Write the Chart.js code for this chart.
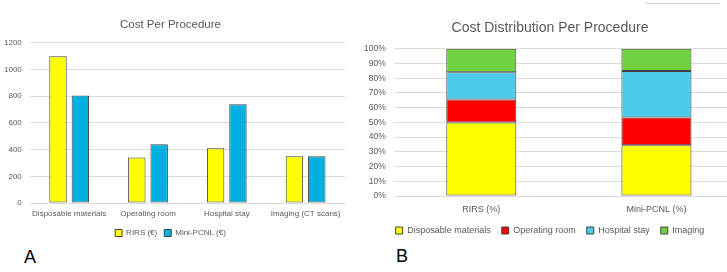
<!DOCTYPE html>
<html>
<head>
<meta charset="utf-8">
<script src="https://cdn.jsdelivr.net/npm/chart.js@4"></script>
<style>
  html, body { margin: 0; padding: 0; background: #fff; overflow: hidden; }
  body { width: 727px; height: 272px; position: relative; font-family: "Liberation Sans", Arial, sans-serif; }
  #boxA { position: absolute; left: 0; top: 0; width: 355px; height: 247px; }
  #boxB { position: absolute; left: 360px; top: 0; width: 394px; height: 245px; }
  .panel { position: absolute; font-size: 18px; color: #000; }
  #frameLine { position: absolute; left: 645px; top: 3px; width: 75px; height: 1px; background: #d4d4d4; }
</style>
</head>
<body>
<div id="boxA"><canvas id="cost_chart"></canvas></div>
<div id="boxB"><canvas id="share_chart"></canvas></div>
<div id="frameLine"></div>
<div class="panel" style="left:24px; top:247px;">A</div>
<div class="panel" style="left:396px; top:246px;">B</div>
<script>
const costCategories = ['Disposable materials', 'Operating room', 'Hospital stay', 'Imaging (CT scans)'];
const rirsCost = [1100, 340, 410, 350];
const miniPcnlCost = [805, 440, 740, 350];

const procedures = ['RIRS (%)', 'Mini-PCNL (%)'];
const disposableShare = [50.0, 34.5];
const operatingShare = [15.5, 18.8];
const hospitalShare = [18.6, 31.7];
const imagingShare = [15.9, 15.0];

const textGrey = '#595959';
const gridGrey = '#dcdcdc';
const edge = '#404040';

Chart.defaults.font.family = '"Liberation Sans", Arial, sans-serif';
Chart.defaults.color = textGrey;
Chart.defaults.animation = false;

const costChart = new Chart(document.getElementById('cost_chart').getContext('2d'), {
  type: 'bar',
  data: {
    labels: costCategories,
    datasets: [
      { label: 'RIRS (€)', data: rirsCost, backgroundColor: '#ffff00', borderColor: edge, borderWidth: 1 },
      { label: 'Mini-PCNL (€)', data: miniPcnlCost, backgroundColor: '#00b0e0', borderColor: edge, borderWidth: 1 },
    ],
  },
  options: {
    responsive: true,
    maintainAspectRatio: false,
    layout: { padding: { left: -4, right: 10, top: 18, bottom: 0 } },
    datasets: { bar: { categoryPercentage: 0.567, barPercentage: 0.78, borderSkipped: false } },
    plugins: {
      title: { display: true, text: 'Cost Per Procedure', font: { size: 11.5, weight: 'normal' }, color: textGrey, padding: { top: 0, bottom: 11 } },
      legend: { position: 'bottom', labels: { boxWidth: 7, boxHeight: 7, font: { size: 8 }, padding: 7 } },
      tooltip: { enabled: false },
    },
    scales: {
      x: {
        grid: { display: false, drawTicks: false },
        border: { display: false },
        ticks: { font: { size: 8 }, padding: 6, maxRotation: 0, minRotation: 0, autoSkip: false },
        afterFit: (scale) => { scale.height = 19; },
      },
      y: {
        min: 0,
        max: 1200,
        ticks: { stepSize: 200, font: { size: 8 }, padding: 8, callback: (v) => String(v) },
        grid: { color: gridGrey, drawTicks: false },
        border: { display: false },
      },
    },
  },
});

const shareChart = new Chart(document.getElementById('share_chart').getContext('2d'), {
  type: 'bar',
  data: {
    labels: procedures,
    datasets: [
      { label: 'Disposable materials', data: disposableShare, backgroundColor: '#ffff00', borderColor: edge, borderWidth: 1 },
      { label: 'Operating room', data: operatingShare, backgroundColor: '#ff0000', borderColor: edge, borderWidth: 1 },
      { label: 'Hospital stay', data: hospitalShare, backgroundColor: '#4dcbeb', borderColor: edge, borderWidth: 1 },
      { label: 'Imaging', data: imagingShare, backgroundColor: '#6fd13f', borderColor: edge, borderWidth: 1 },
    ],
  },
  options: {
    responsive: true,
    maintainAspectRatio: false,
    layout: { padding: { left: -4, right: 10, top: 20, bottom: 0 } },
    datasets: { bar: { categoryPercentage: 0.4, barPercentage: 1, borderSkipped: false } },
    plugins: {
      title: { display: true, text: 'Cost Distribution Per Procedure', font: { size: 14, weight: 'normal' }, color: textGrey, padding: { top: 0, bottom: 12 } },
      legend: { position: 'bottom', labels: { boxWidth: 7, boxHeight: 7, font: { size: 9 }, padding: 11 } },
      tooltip: { enabled: false },
    },
    scales: {
      x: {
        stacked: true,
        grid: { display: false, drawTicks: false },
        border: { display: false },
        ticks: { font: { size: 9 }, padding: 8 },
        afterFit: (scale) => { scale.height = 19; },
      },
      y: {
        stacked: true,
        min: 0,
        max: 100,
        ticks: { stepSize: 10, font: { size: 8.5 }, padding: 8, callback: (v) => v + '%' },
        grid: { color: gridGrey, drawTicks: false },
        border: { display: false },
      },
    },
  },
});
</script>
</body>
</html>
